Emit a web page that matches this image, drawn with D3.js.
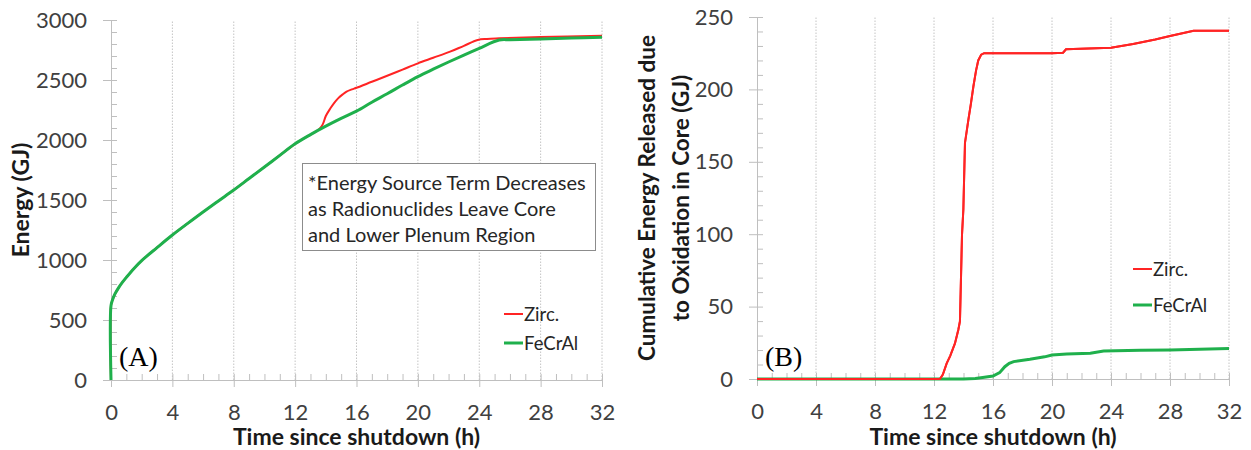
<!DOCTYPE html>
<html>
<head>
<meta charset="utf-8">
<script src="https://cdn.jsdelivr.net/npm/d3@7"></script>
<style>
  body { margin: 0; background: #fff; }
  svg { display: block; }
  .tick text { font-family: Lato, "Open Sans", sans-serif; font-size: 22px; fill: #404040; }
  .axis path, .axis line { stroke: #bfbfbf; }
</style>
</head>
<body>
<svg id="chart" width="1251" height="450"></svg>
<script>
// ---- data ----
// panel A: energy (GJ) vs time since shutdown (h)
var energyFeCrAl = [[0,0],[0,620],[0.1,668],[0.25,715],[0.5,770],[0.75,815],[1,855],[1.5,930],[2,995],
  [3,1103],[4,1208],[5,1305],[6,1400],[7,1492],[8,1583],[9,1679],[10,1775],[11,1872],[12,1968],
  [13,2045],[14,2115],[15,2180],[16,2240],[17,2315],[18,2385],[19,2458],[20,2528],[21,2590],
  [22,2650],[23,2708],[24,2764],[25.3,2833],[26,2836],[28,2842],[30,2849],[32,2856]];
var energyZirc = [[0,0],[0,620],[0.1,668],[0.25,715],[0.5,770],[0.75,815],[1,855],[1.5,930],[2,995],
  [3,1103],[4,1208],[5,1305],[6,1400],[7,1492],[8,1583],[9,1679],[10,1775],[11,1872],[12,1968],
  [13,2045],[13.3,2065],[13.6,2095],[13.8,2130],[14,2200],[14.3,2264],[14.55,2310],[14.8,2347],
  [15.1,2380],[15.35,2403],[15.7,2422],[16,2435],[17,2485],[18,2535],[19,2587],[20,2639],
  [21,2685],[22.1,2736],[23,2785],[23.9,2833],[24.5,2842],[25.3,2847],[28,2858],[32,2869]];
// panel B: cumulative oxidation energy in core (GJ)
var oxidZirc = [[0,0],[12.4,0],[12.6,3],[12.86,10.8],[13.1,16],[13.42,24.6],[13.65,34],[13.76,40],
  [13.83,70],[13.9,100],[13.99,117],[14.1,163],[14.33,179],[14.5,190],[14.67,202],[14.85,213],
  [15,220],[15.2,224],[15.4,225],[20,225],[20.75,225.3],[20.95,227.7],[24,228.8],[25.5,231.4],
  [27,234.5],[28,236.9],[29.6,240.5],[32,240.5]];
var oxidFeCrAl = [[0,0],[14,0],[14.8,0.4],[15.3,1],[16,2],[16.45,4.4],[16.8,8.5],[17.1,10.8],
  [17.4,12],[18.5,13.6],[19.5,15.3],[20,16.6],[21,17.3],[22.6,17.8],[23.5,19.3],[26,19.8],
  [28,20.1],[32,21]];

var xTicks = [0,4,8,12,16,20,24,28,32];
var yTicksA = [0,500,1000,1500,2000,2500,3000];
var yTicksB = [0,50,100,150,200,250];
var boxLines = ["*Energy Source Term Decreases", "as Radionuclides Leave Core", "and Lower Plenum Region"];

var red = "#ff2424", green = "#1fb04c";
var svg = d3.select("#chart");

function panel(opt) {
  var x = d3.scaleLinear().domain([0, 32]).range([opt.x0, opt.x1]);
  var y = d3.scaleLinear().domain([0, opt.ymax]).range([opt.y0, opt.y1]);
  var g = svg.append("g");

  // dotted vertical gridlines
  g.selectAll(".grid").data(xTicks.slice(1)).enter().append("line")
    .attr("x1", x).attr("x2", x).attr("y1", opt.y0).attr("y2", opt.y1)
    .attr("stroke", "#c4c4c4").attr("stroke-dasharray", "1.5,1.5");

  // minor ticks
  g.append("g").attr("class", "axis")
    .attr("transform", "translate(0," + opt.y0 + ")")
    .call(d3.axisTop(x).tickValues(d3.range(0, 33, 1)).tickSize(6).tickFormat(""))
    .select(".domain").remove();
  g.append("g").attr("class", "axis")
    .attr("transform", "translate(" + opt.x0 + ",0)")
    .call(d3.axisRight(y).tickValues(d3.range(0, opt.ymax + 1, opt.minor)).tickSize(6).tickFormat(""))
    .select(".domain").remove();

  // major axes
  g.append("g").attr("class", "axis")
    .attr("transform", "translate(0," + opt.y0 + ")")
    .call(d3.axisBottom(x).tickValues(xTicks).tickSizeInner(7).tickSizeOuter(0).tickPadding(17)
      .tickFormat(d3.format("d")));
  g.append("g").attr("class", "axis")
    .attr("transform", "translate(" + opt.x0 + ",0)")
    .call(d3.axisLeft(y).tickValues(opt.yTicks).tickSizeInner(8).tickSizeOuter(0).tickPadding(16)
      .tickFormat(d3.format("d")));

  var line = d3.line().x(function(d) { return x(d[0]); }).y(function(d) { return y(d[1]); })
    .curve(opt.smooth ? d3.curveCatmullRom.alpha(0.5) : d3.curveLinear);
  g.append("path").datum(opt.red).attr("d", line)
    .attr("fill", "none").attr("stroke", red).attr("stroke-width", 2);
  g.append("path").datum(opt.green).attr("d", line)
    .attr("fill", "none").attr("stroke", green).attr("stroke-width", 3);
  if (opt.redOnTop) {
    g.append("path").datum(opt.red).attr("d", line)
      .attr("fill", "none").attr("stroke", red).attr("stroke-width", 2);
  }

  // x axis title
  g.append("text")
    .attr("x", (opt.x0 + opt.x1) / 2).attr("y", 445)
    .attr("text-anchor", "middle")
    .style("font-family", "Lato, sans-serif").style("font-weight", "bold")
    .style("font-size", "23px").attr("fill", "#1a1a1a")
    .text("Time since shutdown (h)");

  // panel letter
  g.append("text")
    .attr("x", opt.x0 + 8).attr("y", 366)
    .style("font-family", "'Liberation Serif', 'Times New Roman', serif")
    .style("font-size", "28px").attr("fill", "#000")
    .text(opt.letter);

  // legend
  [["Zirc.", red, 2], ["FeCrAl", green, 3]].forEach(function(l, i) {
    var ly = opt.legY + i * opt.legGap;
    g.append("line").attr("x1", opt.legX).attr("x2", opt.legX + 19)
      .attr("y1", ly).attr("y2", ly).attr("stroke", l[1]).attr("stroke-width", l[2]);
    g.append("text").attr("x", opt.legX + 20).attr("y", ly)
      .attr("dy", "0.36em")
      .style("font-family", "Lato, sans-serif").style("font-size", "18.5px").attr("fill", "#262626")
      .text(l[0]);
  });
  return g;
}

panel({x0: 111, x1: 602, y0: 380, y1: 20, ymax: 3000, minor: 100, yTicks: yTicksA, smooth: true,
  green: energyFeCrAl, red: energyZirc, letter: "(A)", legX: 504, legY: 314, legGap: 29});
panel({x0: 757, x1: 1229, y0: 379, y1: 17, ymax: 250, minor: 10, yTicks: yTicksB,
  green: oxidFeCrAl, red: oxidZirc, letter: "(B)", legX: 1133, legY: 269, legGap: 36, redOnTop: true});

// y axis titles
svg.append("text")
  .attr("transform", "translate(21,200) rotate(-90)")
  .attr("text-anchor", "middle").attr("dy", "0.36em")
  .style("font-family", "Lato, sans-serif").style("font-weight", "bold")
  .style("font-size", "23px").attr("fill", "#1a1a1a")
  .text("Energy (GJ)");
svg.append("text")
  .attr("transform", "translate(647,198) rotate(-90)")
  .attr("text-anchor", "middle").attr("dy", "0.36em")
  .style("font-family", "Lato, sans-serif").style("font-weight", "bold")
  .style("font-size", "22.5px").attr("fill", "#1a1a1a")
  .text("Cumulative Energy Released due");
svg.append("text")
  .attr("transform", "translate(681,198) rotate(-90)")
  .attr("text-anchor", "middle").attr("dy", "0.36em")
  .style("font-family", "Lato, sans-serif").style("font-weight", "bold")
  .style("font-size", "22.5px").attr("fill", "#1a1a1a")
  .text("to Oxidation in Core (GJ)");

// note box in panel A
svg.append("rect")
  .attr("x", 302.5).attr("y", 163.5).attr("width", 293).attr("height", 87)
  .attr("fill", "#fff").attr("stroke", "#8c8c8c").attr("stroke-width", 1);
svg.selectAll(".note").data(boxLines).enter().append("text")
  .attr("x", 308).attr("y", function(d, i) { return 183 + i * 26; })
  .attr("dy", "0.36em")
  .style("font-family", "Lato, sans-serif").style("font-size", "20px").attr("fill", "#262626")
  .text(function(d) { return d; });
</script>
</body>
</html>
